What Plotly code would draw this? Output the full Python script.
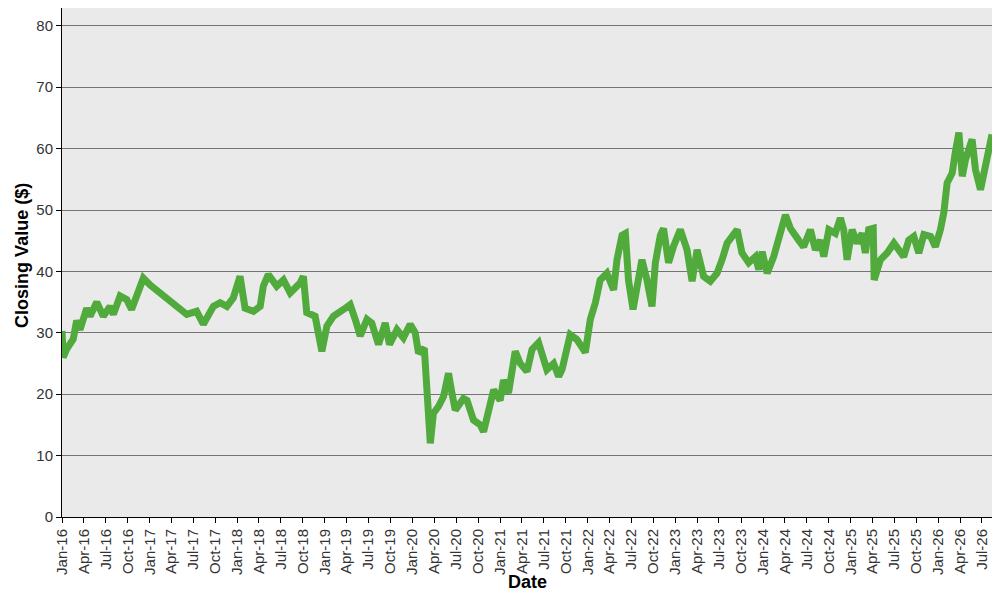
import plotly.graph_objects as go

# closing values
dates = [
    "2016-01-01", "2016-01-06", "2016-01-20", "2016-02-17", "2016-03-02", "2016-03-16",
    "2016-04-13", "2016-04-27", "2016-05-25", "2016-06-21", "2016-07-19", "2016-08-02",
    "2016-08-30", "2016-09-27", "2016-10-17", "2016-11-07", "2016-12-05", "2017-01-02",
    "2017-02-12", "2017-03-26", "2017-04-23", "2017-06-04", "2017-07-15", "2017-08-12",
    "2017-09-23", "2017-10-21", "2017-11-18", "2017-12-15", "2018-01-12", "2018-02-02",
    "2018-03-09", "2018-04-06", "2018-04-19", "2018-05-10", "2018-06-14", "2018-07-12",
    "2018-08-09", "2018-09-19", "2018-10-03", "2018-10-17", "2018-11-21", "2018-12-19",
    "2019-01-09", "2019-02-05", "2019-03-19", "2019-04-16", "2019-05-07", "2019-05-28",
    "2019-06-25", "2019-07-15", "2019-08-12", "2019-09-09", "2019-09-27", "2019-10-28",
    "2019-11-24", "2019-12-22", "2020-01-12", "2020-01-26", "2020-02-19", "2020-02-27",
    "2020-03-15", "2020-03-28", "2020-04-18", "2020-05-09", "2020-05-30", "2020-06-13",
    "2020-06-27", "2020-07-31", "2020-08-15", "2020-09-11", "2020-10-09", "2020-10-23",
    "2020-11-13", "2020-12-04", "2020-12-31", "2021-01-14", "2021-02-04", "2021-03-04",
    "2021-03-25", "2021-04-22", "2021-05-13", "2021-06-09", "2021-07-14", "2021-08-11",
    "2021-09-01", "2021-09-15", "2021-10-19", "2021-11-16", "2021-12-21", "2022-01-11",
    "2022-02-01", "2022-02-21", "2022-03-21", "2022-04-18", "2022-05-02", "2022-05-23",
    "2022-06-06", "2022-06-19", "2022-07-08", "2022-07-31", "2022-08-14", "2022-09-04",
    "2022-09-25", "2022-10-09", "2022-10-30", "2022-11-12", "2022-12-03", "2022-12-24",
    "2023-01-21", "2023-02-18", "2023-03-11", "2023-04-01", "2023-04-28", "2023-05-26",
    "2023-06-23", "2023-07-14", "2023-08-04", "2023-09-15", "2023-10-05", "2023-11-02",
    "2023-11-30", "2023-12-14", "2023-12-28", "2024-01-18", "2024-02-14", "2024-04-03",
    "2024-04-24", "2024-05-28", "2024-06-18", "2024-07-16", "2024-08-06", "2024-08-27",
    "2024-09-10", "2024-10-01", "2024-10-28", "2024-11-18", "2024-12-02", "2024-12-16",
    "2025-01-06", "2025-01-27", "2025-02-17", "2025-03-02", "2025-03-16", "2025-04-04",
    "2025-04-08", "2025-05-04", "2025-06-01", "2025-06-29", "2025-07-19", "2025-08-09",
    "2025-08-30", "2025-09-20", "2025-10-11", "2025-11-01", "2025-11-29", "2025-12-19",
    "2026-01-09", "2026-01-23", "2026-02-06", "2026-02-27", "2026-03-13", "2026-03-27",
    "2026-04-10", "2026-04-24", "2026-05-21", "2026-06-04", "2026-06-25", "2026-07-16",
    "2026-07-30", "2026-08-12",
]
closes = [
    30.3, 26.0, 27.3, 29.0, 32.0, 30.5,
    34.0, 32.7, 35.0, 32.7, 34.3, 33.0,
    36.0, 35.4, 33.8, 36.0, 38.9, 37.8,
    36.5, 35.4, 34.6, 33.0, 33.5, 31.4,
    34.3, 34.9, 34.3, 35.7, 39.2, 34.0,
    33.5, 34.3, 37.6, 39.5, 37.6, 38.6,
    36.5, 38.1, 39.2, 33.3, 32.7, 27.0,
    31.1, 32.7, 33.8, 34.6, 32.2, 29.5,
    32.2, 31.6, 28.1, 31.6, 28.1, 30.5,
    29.2, 31.4, 30.0, 26.7, 27.5, 22.9,
    12.0, 16.9, 18.0, 19.6, 23.4, 20.2,
    17.4, 19.3, 19.0, 15.8, 15.0, 13.9,
    18.0, 20.7, 19.0, 22.3, 20.2, 27.0,
    25.0, 23.7, 27.3, 28.4, 24.0, 25.0,
    22.9, 24.0, 29.7, 28.9, 26.8, 32.2,
    34.9, 38.6, 39.7, 37.0, 41.9, 45.9,
    46.2, 38.6, 33.8, 38.6, 41.9, 38.6,
    34.3, 41.4, 45.9, 47.0, 41.4, 44.1,
    46.8, 43.5, 38.4, 43.5, 39.2, 38.4,
    39.7, 41.9, 44.6, 46.8, 43.0, 41.4,
    42.4, 40.3, 43.2, 39.7, 42.4, 49.2,
    47.0, 45.1, 44.0, 46.8, 43.5, 45.1,
    42.4, 46.8, 46.2, 48.7, 46.8, 41.9,
    46.8, 44.6, 46.2, 43.0, 46.8, 47.0,
    38.6, 41.9, 43.0, 44.6, 43.5, 42.4,
    45.1, 45.7, 43.0, 46.0, 45.7, 44.0,
    46.8, 49.5, 54.4, 56.0, 59.6, 62.6,
    55.5, 58.3, 61.5, 56.6, 53.3, 57.2,
    59.3, 62.3,
]

fig = go.Figure()
fig.add_trace(go.Scatter(
    x=dates, y=closes, mode="lines",
    line=dict(color="#50AA3C", width=7),
    showlegend=False,
))

tick_font = dict(family="Liberation Sans, Arial, sans-serif", size=15, color="#333")
title_font = dict(family="Liberation Sans, Arial, sans-serif", size=18, color="black")

# the page body has an 8px margin, so the figure is sized to fit inside it
fig.update_layout(
    width=984, height=584,
    margin=dict(l=54, r=0, t=0, b=75),
    paper_bgcolor="white",
    plot_bgcolor="#EAEAEA",
    font=tick_font,
    xaxis=dict(
        type="date", automargin=False,
        range=["2016-01-01", "2026-08-12"],
        tick0="2016-01-01", dtick="M3", tickformat="%b-%y",
        tickangle=-90, ticks="outside", ticklen=5, tickcolor="black",
        showgrid=False, zeroline=False,
        showline=True, linecolor="black", linewidth=1, mirror=True,
        tickfont=tick_font,
    ),
    yaxis=dict(
        automargin=False,
        range=[0, 82.9], dtick=10, tick0=0,
        ticks="outside", ticklen=5, tickcolor="black",
        showgrid=True, gridcolor="#747474", gridwidth=1,
        zeroline=False,
        showline=True, linecolor="black", linewidth=1, mirror=True,
        tickfont=tick_font,
    ),
    annotations=[
        dict(text="<b>Date</b>", xref="paper", yref="paper", x=0.5, y=0,
             xanchor="center", yanchor="middle", yshift=-65,
             showarrow=False, font=title_font),
        dict(text="<b>Closing Value ($)</b>", xref="paper", yref="paper", x=0, y=0.513,
             xanchor="center", yanchor="middle", xshift=-40, textangle=-90,
             showarrow=False, font=title_font),
    ],
)

fig.write_html("out.html")
